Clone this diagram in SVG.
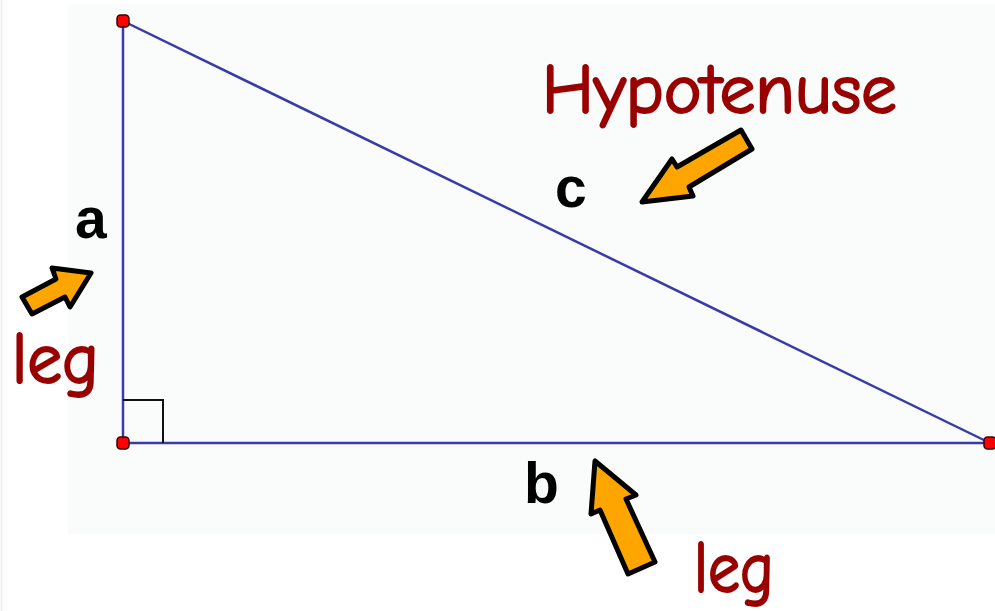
<svg xmlns="http://www.w3.org/2000/svg" width="995" height="611" viewBox="0 0 995 611">
  <style>
    .side { stroke: #3a3aa8; stroke-width: 2.5; fill: none; }
    .vertex { fill: #ff0000; stroke: #400000; stroke-width: 1.5; }
    .var { font-family: "Liberation Sans", Arial, sans-serif; font-weight: bold; font-size: 57px; fill: #000000; }
    .note { font-family: "Comic Sans MS", "Comic Neue", "Noto Sans", sans-serif; fill: #990000; stroke: #990000; stroke-width: 2; }
    .arrow { fill: #ffa500; stroke: #000000; stroke-width: 5; stroke-linejoin: round; }
  </style>
  <rect x="0" y="0" width="995" height="611" fill="#ffffff"/>
  <line x1="1.5" y1="0" x2="1.5" y2="611" stroke="#ececec" stroke-width="1.5"/>
  <rect x="68" y="4" width="927" height="530" fill="#fafcfc"/>

  <g id="connectors">
    <line class="side" x1="123" y1="21" x2="123" y2="443"/>
    <line class="side" x1="123" y1="443" x2="990" y2="443"/>
    <line class="side" x1="123" y1="21" x2="990" y2="443" stroke-width="2"/>
    <polyline points="123,400 163,400 163,443" fill="none" stroke="#111111" stroke-width="2"/>
  </g>

  <g id="vertex-top"><rect class="vertex" x="117" y="15" width="12" height="12" rx="3.5"/></g>
  <g id="vertex-right-angle"><rect class="vertex" x="117" y="437" width="12" height="12" rx="3.5"/></g>
  <g id="vertex-right"><rect class="vertex" x="984" y="437" width="12" height="12" rx="3.5"/></g>

  <g id="label-a"><text class="var" x="75" y="238">a</text></g>
  <g id="label-c"><text class="var" x="555" y="207">c</text></g>
  <g id="label-b"><text class="var" x="524" y="503">b</text></g>

  <g id="hypotenuse-note">
    <text class="note" x="542" y="113" font-size="70" textLength="355" lengthAdjust="spacingAndGlyphs">Hypotenuse</text>
    <polygon class="arrow" points="752,149 689,187 693,196 642,202 672,159 677,167 741,130"/>
  </g>

  <g id="leg-left-note">
    <text class="note" x="12" y="383" font-size="72" textLength="87" lengthAdjust="spacingAndGlyphs">leg</text>
    <polygon class="arrow" points="32,314 65,297 70,307 91,273 52,268 56,279 22,297"/>
  </g>

  <g id="leg-bottom-note">
    <text class="note" x="694" y="592" font-size="72" textLength="80" lengthAdjust="spacingAndGlyphs">leg</text>
    <polygon class="arrow" points="655,562 626,499 636,495 595,461 591,514 600,510 628,574"/>
  </g>
</svg>
